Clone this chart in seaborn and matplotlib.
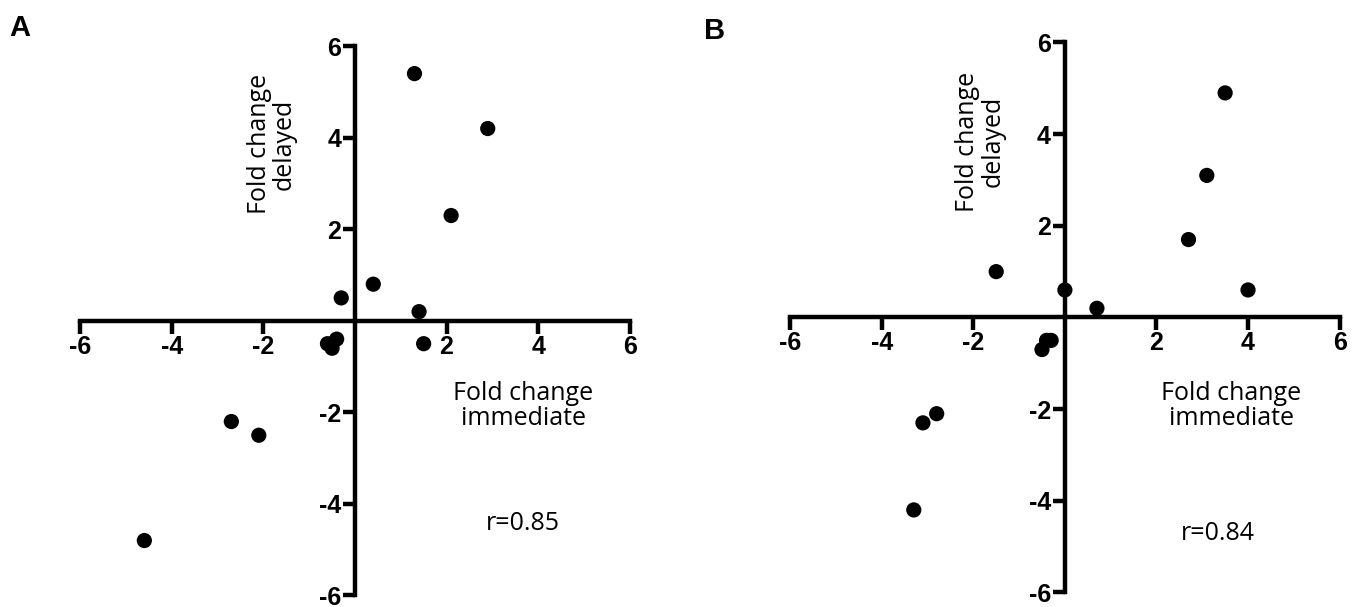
import matplotlib
matplotlib.use("Agg")
import matplotlib.pyplot as plt
import pandas as pd
import seaborn as sns

# Data
a_immediate = [1.3, 2.9, 2.1, 0.4, -0.3, 1.4, 1.5, -0.6, -0.4, -0.5, -2.7, -2.1, -4.6]
a_delayed = [5.4, 4.2, 2.3, 0.8, 0.5, 0.2, -0.5, -0.5, -0.4, -0.6, -2.2, -2.5, -4.8]

b_immediate = [3.5, 3.1, 2.7, -1.5, 0.0, 4.0, 0.7, -0.3, -0.4, -0.5, -2.8, -3.1, -3.3]
b_delayed = [4.9, 3.1, 1.7, 1.0, 0.6, 0.6, 0.2, -0.5, -0.5, -0.7, -2.1, -2.3, -4.2]

r_values = ["r=0.85", "r=0.84"]
panel_letters = ["A", "B"]
ticks = [-6, -4, -2, 2, 4, 6]

sns.set_style("white")
plt.rcParams["font.family"] = ["Liberation Sans", "DejaVu Sans"]
plt.rcParams["axes.unicode_minus"] = False
plt.rcParams["text.color"] = "black"

fig = plt.figure(figsize=(13.6, 6.07), dpi=100)
ax_a = fig.add_axes([0.059, 0.019, 0.404, 0.905])
ax_b = fig.add_axes([0.581, 0.024, 0.404, 0.906])

panels = [
    (ax_a, a_immediate, a_delayed, (-1.82, 3.86), (3.68, -1.87), (3.67, -4.43)),
    (ax_b, b_immediate, b_delayed, (-1.85, 3.84), (3.64, -1.94), (3.35, -4.72)),
]

for i, (ax, xs, ys, ylab, xlab, rpos) in enumerate(panels):
    df = pd.DataFrame({"immediate": xs, "delayed": ys})
    sns.scatterplot(data=df, x="immediate", y="delayed", ax=ax,
                    color="black", s=120, edgecolor="none", zorder=3)
    ax.set_xlim(-6, 6)
    ax.set_ylim(-6, 6)
    ax.spines["left"].set_position("zero")
    ax.spines["bottom"].set_position("zero")
    ax.spines["right"].set_visible(False)
    ax.spines["top"].set_visible(False)
    for side in ["left", "bottom"]:
        ax.spines[side].set_linewidth(3.2)
        ax.spines[side].set_color("black")
        ax.spines[side].set_capstyle("projecting")
    ax.set_xticks(ticks)
    ax.set_yticks(ticks)
    ax.tick_params(axis="both", bottom=True, left=True, direction="out",
                   length=9, width=3.2, labelsize=18, pad=1,
                   colors="black", labelcolor="black")
    for lbl in ax.get_xticklabels() + ax.get_yticklabels():
        lbl.set_fontweight("bold")
    ax.set_xlabel("")
    ax.set_ylabel("")
    ax.text(ylab[0], ylab[1], "Fold change\ndelayed", rotation=90,
            ha="center", va="center", fontsize=18, family="Open Sans",
            linespacing=1.0, color="black")
    ax.text(xlab[0], xlab[1], "Fold change\nimmediate", ha="center",
            va="center", fontsize=18, family="Open Sans", linespacing=1.0,
            color="black")
    ax.text(rpos[0], rpos[1], r_values[i], ha="center", va="center",
            fontsize=18, family="Open Sans", color="black")
    ax.patch.set_alpha(0)

fig.text(0.007, 0.94, panel_letters[0], fontsize=21, fontweight="bold")
fig.text(0.518, 0.935, panel_letters[1], fontsize=21, fontweight="bold")

fig.savefig("out.png", dpi=100)
